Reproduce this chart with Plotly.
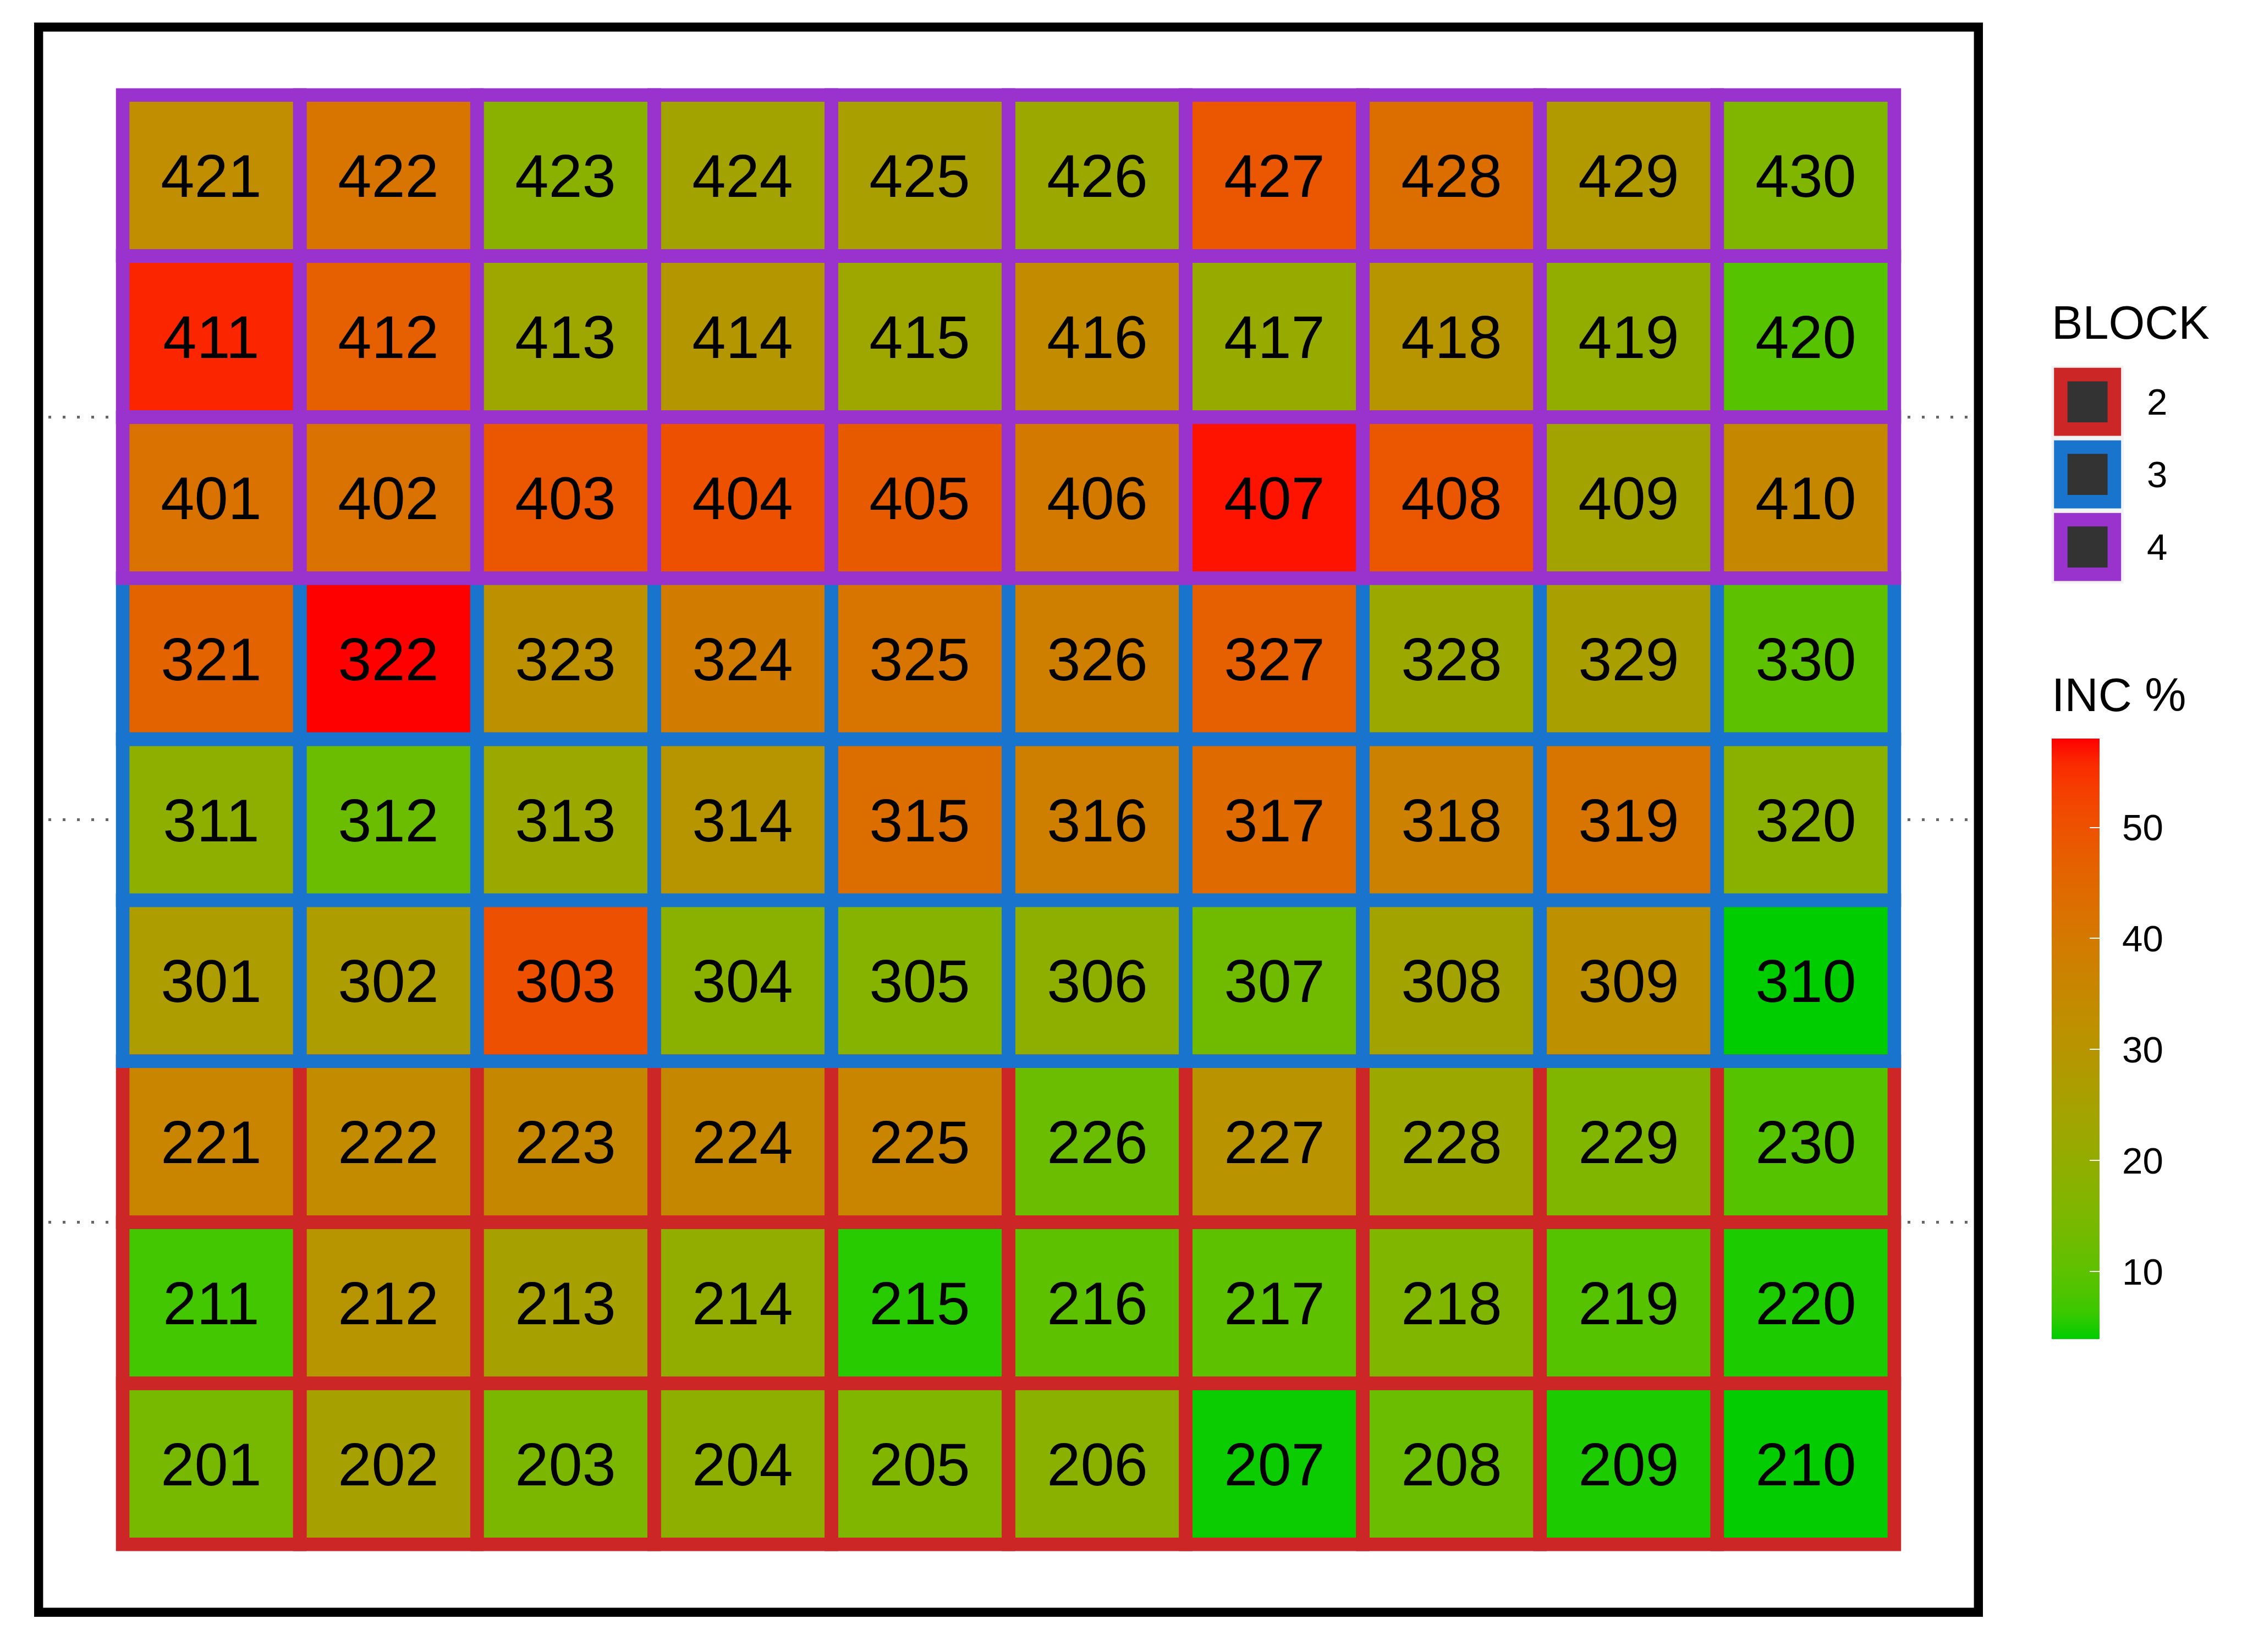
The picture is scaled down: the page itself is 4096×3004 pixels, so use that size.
import plotly.graph_objects as go

S = 0.91
W_FIG, H_FIG = 4096, 3004
FONT = "Liberation Sans, Arial, Helvetica, sans-serif"

# ---------------- data ----------------
cols = [1, 2, 3, 4, 5, 6, 7, 8, 9, 10]
rows = [1, 2, 3, 4, 5, 6, 7, 8, 9]
row_block = [2, 2, 2, 3, 3, 3, 4, 4, 4]

plot_ids = [
    [201, 202, 203, 204, 205, 206, 207, 208, 209, 210],
    [211, 212, 213, 214, 215, 216, 217, 218, 219, 220],
    [221, 222, 223, 224, 225, 226, 227, 228, 229, 230],
    [301, 302, 303, 304, 305, 306, 307, 308, 309, 310],
    [311, 312, 313, 314, 315, 316, 317, 318, 319, 320],
    [321, 322, 323, 324, 325, 326, 327, 328, 329, 330],
    [401, 402, 403, 404, 405, 406, 407, 408, 409, 410],
    [411, 412, 413, 414, 415, 416, 417, 418, 419, 420],
    [421, 422, 423, 424, 425, 426, 427, 428, 429, 430],
]

inc = [
    [14, 25, 15, 19, 16, 18, 4.3, 12, 5, 4.0],
    [7, 30, 25, 20, 5.5, 10, 10, 16, 9, 5],
    [36, 34, 35, 35, 36, 12, 31, 22, 16, 9],
    [27, 27, 50, 18, 17, 19, 13, 24, 32, 3.9],
    [19, 12, 22, 30, 43, 38, 44, 37, 41, 18],
    [46, 58, 32, 39, 41, 38, 47, 22, 26, 10],
    [42, 42, 49, 50, 48, 40, 57, 49, 24, 35],
    [56, 47, 23, 29, 23, 34, 21, 30, 20, 9],
    [33, 41, 18, 24, 26, 22, 49, 43, 28, 16],
]

block_names = [2, 3, 4]
block_colors = {2: "#CD2626", 3: "#1874CD", 4: "#9A32CD"}
cbar_ticks = [10, 20, 30, 40, 50]
low_color, high_color = "#00CD00", "#FF0000"


# ---------------- colour scale (Lab interpolation, like ggplot) ----------------
def _hex_to_rgb(h):
    h = h.lstrip("#")
    return [int(h[i:i + 2], 16) / 255 for i in (0, 2, 4)]


def _lin(c):
    return c / 12.92 if c <= 0.04045 else ((c + 0.055) / 1.055) ** 2.4


def _gam(c):
    c = max(0.0, min(1.0, c))
    return 12.92 * c if c <= 0.0031308 else 1.055 * c ** (1 / 2.4) - 0.055


WX, WY, WZ = 0.95047, 1.0, 1.08883


def _f(t):
    return t ** (1 / 3) if t > 216 / 24389 else (24389 / 27 * t + 16) / 116


def _finv(t):
    return t ** 3 if t ** 3 > 216 / 24389 else (116 * t - 16) / (24389 / 27)


def rgb_to_lab(h):
    r, g, b = [_lin(c) for c in _hex_to_rgb(h)]
    X = 0.4124 * r + 0.3576 * g + 0.1805 * b
    Y = 0.2126 * r + 0.7152 * g + 0.0722 * b
    Z = 0.0193 * r + 0.1192 * g + 0.9505 * b
    fx, fy, fz = _f(X / WX), _f(Y / WY), _f(Z / WZ)
    return 116 * fy - 16, 500 * (fx - fy), 200 * (fy - fz)


def lab_to_rgbstr(L, a, b):
    fy = (L + 16) / 116
    fx = fy + a / 500
    fz = fy - b / 200
    X, Y, Z = WX * _finv(fx), WY * _finv(fy), WZ * _finv(fz)
    r = 3.2406 * X - 1.5372 * Y - 0.4986 * Z
    g = -0.9689 * X + 1.8758 * Y + 0.0415 * Z
    bb = 0.0557 * X - 0.2040 * Y + 1.0570 * Z
    return "rgb(%d,%d,%d)" % tuple(round(_gam(c) * 255) for c in (r, g, bb))


lab_lo, lab_hi = rgb_to_lab(low_color), rgb_to_lab(high_color)
N_STOPS = 24
colorscale = []
for i in range(N_STOPS + 1):
    t = i / N_STOPS
    lab = [lab_lo[k] + (lab_hi[k] - lab_lo[k]) * t for k in range(3)]
    colorscale.append([t, lab_to_rgbstr(*lab)])

# ---------------- geometry helpers (reference px -> paper) ----------------
L = 68 * S
R_EDGE = 3961 * S
T = 45 * S
B_EDGE = 3231 * S
PW = R_EDGE - L
PH = B_EDGE - T


def px(x):
    return (x * S - L) / PW


def py(y):
    return (B_EDGE - y * S) / PH


zmin = min(min(r) for r in inc)
zmax = max(max(r) for r in inc)

cbar_geom = dict(
    x=px(4098), xanchor="left", xpad=0,
    y=py(1476), yanchor="top", ypad=0,
    lenmode="pixels", len=(2676 - 1476) * S,
    thicknessmode="pixels", thickness=96 * S,
    outlinewidth=0, tickvals=cbar_ticks,
)

fig = go.Figure()
# tiles: fill colour = INC %, label = plot number; colourbar carries the labels
fig.add_trace(go.Heatmap(
    x=cols, y=rows, z=inc, text=plot_ids,
    texttemplate="%{text}",
    textfont=dict(family=FONT, size=121 * S, color="black"),
    colorscale=colorscale, zmin=zmin, zmax=zmax,
    hoverinfo="skip",
    colorbar=dict(
        **cbar_geom,
        ticks="outside", ticklen=28, tickcolor="white", tickwidth=1,
        tickfont=dict(family=FONT, size=74 * S, color="black"),
    ),
))

# same values again as invisible points, whose colourbar draws the white tick marks
xs = [c for r in rows for c in cols]
ys = [r for r in rows for c in cols]
zs = [v for row in inc for v in row]
fig.add_trace(go.Scatter(
    x=xs, y=ys, mode="markers", hoverinfo="skip",
    marker=dict(
        color=zs, colorscale=colorscale, cmin=zmin, cmax=zmax, opacity=0,
        size=1, showscale=True,
        colorbar=dict(
            **cbar_geom,
            ticks="inside", ticklen=19 * S, tickcolor="white", tickwidth=2.5 * S,
            showticklabels=False,
        ),
    ),
))

shapes = []
# tile borders coloured by block
for ri, r in enumerate(rows):
    col = block_colors[row_block[ri]]
    for c in cols:
        shapes.append(dict(
            type="rect", xref="x", yref="y",
            x0=c - 0.5, x1=c + 0.5, y0=r - 0.5, y1=r + 0.5,
            line=dict(color=col, width=27 * S), fillcolor="rgba(0,0,0,0)",
            layer="above",
        ))

# panel border
shapes.append(dict(
    type="rect", xref="paper", yref="paper",
    x0=px(77), x1=px(3952), y0=py(3222), y1=py(54),
    line=dict(color="black", width=18 * S), fillcolor="rgba(0,0,0,0)",
    layer="above",
))

# BLOCK legend
shapes.append(dict(
    type="rect", xref="paper", yref="paper",
    x0=px(4098), x1=px(4242), y0=py(1166), y1=py(731),
    line=dict(width=0), fillcolor="#F2F2F2", layer="above",
))
annotations = []
for i, b in enumerate(block_names):
    top = 735 + 145 * i
    shapes.append(dict(
        type="rect", xref="paper", yref="paper",
        x0=px(4116.5), x1=px(4223.5), y0=py(top + 122.5), y1=py(top + 13.5),
        line=dict(color=block_colors[b], width=27 * S), fillcolor="#333333",
        layer="above",
    ))
    annotations.append(dict(
        text=str(b), xref="paper", yref="paper", x=px(4286), y=py(top + 68),
        xanchor="left", yanchor="middle", showarrow=False,
        font=dict(family=FONT, size=74 * S, color="black"),
    ))

annotations.append(dict(
    text="BLOCK", xref="paper", yref="paper", x=px(4096), y=py(644),
    xanchor="left", yanchor="middle", showarrow=False,
    font=dict(family=FONT, size=93 * S, color="black"),
))
annotations.append(dict(
    text="INC %", xref="paper", yref="paper", x=px(4096), y=py(1389),
    xanchor="left", yanchor="middle", showarrow=False,
    font=dict(family=FONT, size=93 * S, color="black"),
))

fig.update_layout(
    width=W_FIG, height=H_FIG,
    margin=dict(l=L, r=W_FIG - R_EDGE, t=T, b=H_FIG - B_EDGE, pad=0),
    paper_bgcolor="white", plot_bgcolor="white",
    shapes=shapes, annotations=annotations,
    xaxis=dict(range=[0, 11], showgrid=False, zeroline=False,
               showticklabels=False, ticks="", showline=False),
    yaxis=dict(range=[0.05, 9.95], tickvals=[2.5, 5, 7.5], showgrid=True,
               gridcolor="#666666", gridwidth=6 * S, griddash="5px,21px",
               zeroline=False, showticklabels=False, ticks="", showline=False),
    showlegend=False,
)

fig.write_html("out.html")
